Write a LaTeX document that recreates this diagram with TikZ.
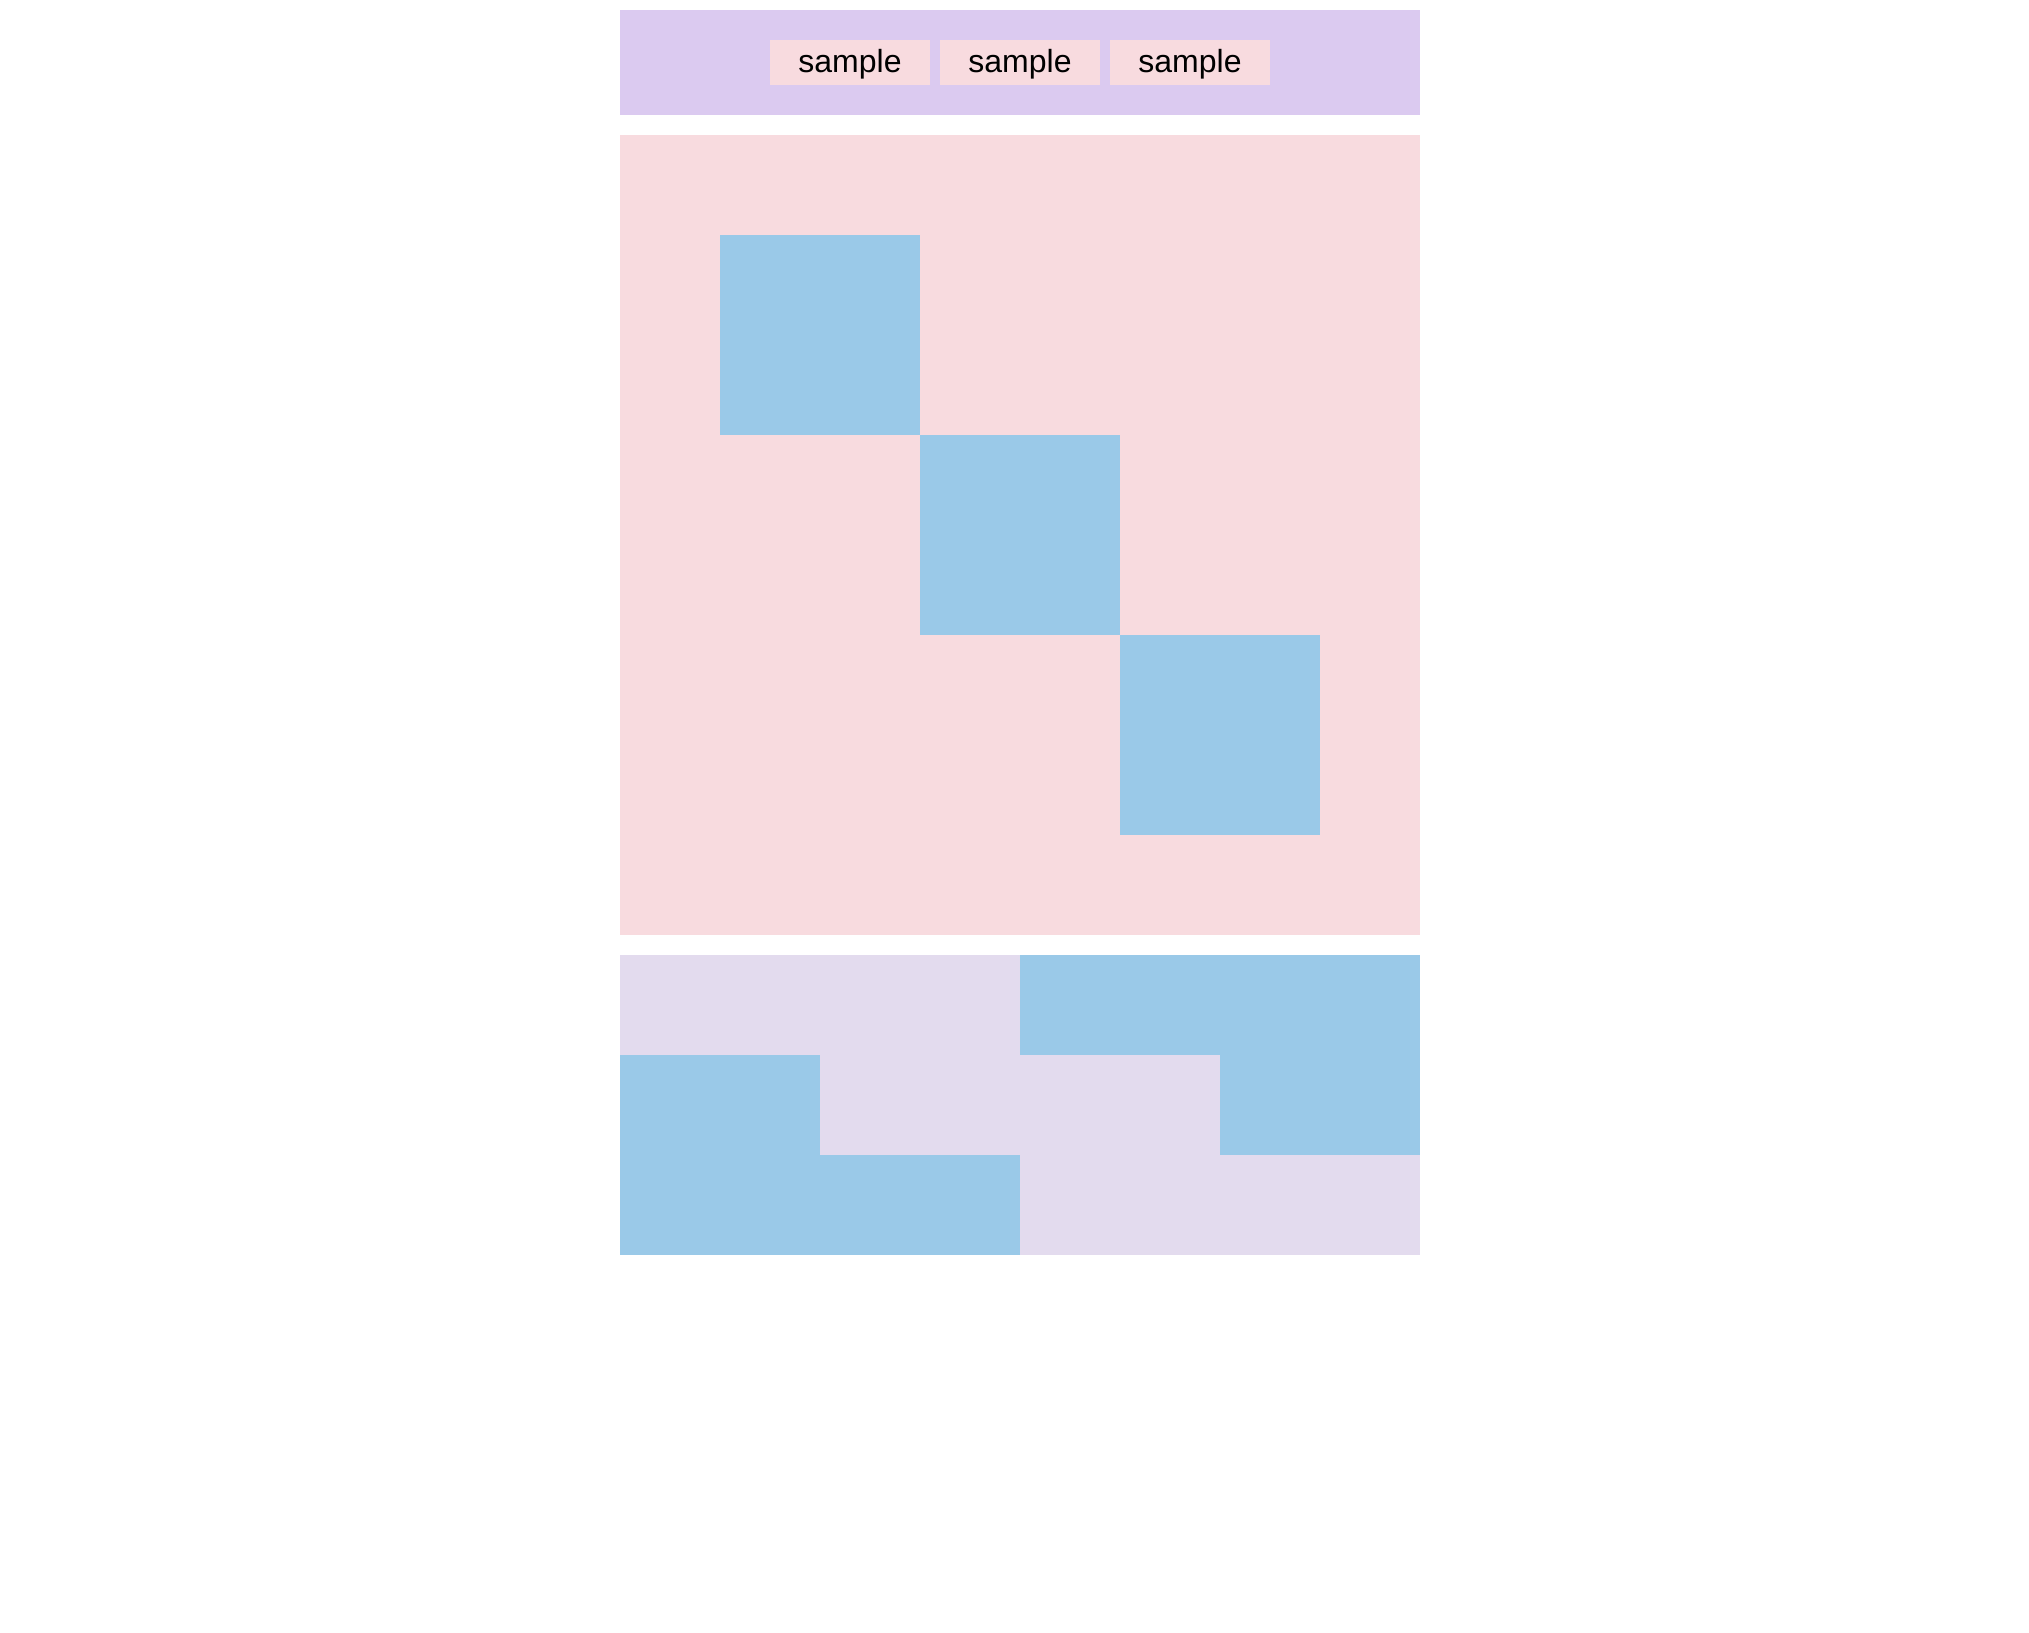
\documentclass[tikz,border=0pt]{standalone}
\usepackage{fontspec}
\setmainfont{Liberation Sans}
\usepackage{tikz}
\usetikzlibrary{calc}

\definecolor{headlav}{RGB}{219,202,240}
\definecolor{softpink}{RGB}{248,219,223}
\definecolor{skyblue}{RGB}{154,201,232}
\definecolor{palelav}{RGB}{227,219,238}

\tikzset{samplebox/.style={fill=softpink,minimum width=1.6cm,minimum height=0.45cm,inner sep=0pt,text height=0.25cm,text depth=0.05cm,font=\fontsize{9.1pt}{11pt}\selectfont}}

\begin{document}
\begin{tikzpicture}[x=0.01cm,y=-0.01cm]
                      \useasboundingbox (0,0) rectangle (2029,1633);
                      \fill[headlav] (620,10) rectangle (1420,115);
                      \foreach \n/\x in {a/850, b/1020, c/1190} \node[samplebox](\n)at(\x,62.5){sample};
                      \fill[softpink] (620,135) rectangle (1420,935);
                      \foreach \x/\y in {720/235, 920/435, 1120/635} \fill[skyblue] (\x,\y) rectangle ++(200,200);
                      \fill[palelav] (620,955) rectangle (1420,1255);
                      \foreach \x/\y in {1020/955, 1220/955, 620/1055, 1220/1055, 620/1155, 820/1155} \fill[skyblue] (\x,\y) rectangle ++(200,100);
                  \end{tikzpicture}
\end{document}
